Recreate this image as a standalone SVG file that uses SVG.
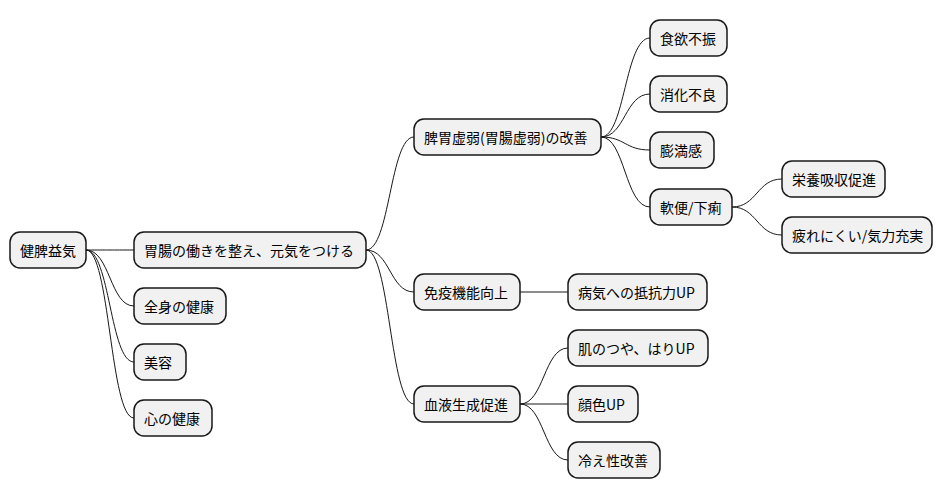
<svg xmlns="http://www.w3.org/2000/svg" width="943" height="499" viewBox="0 0 943 499">
<style>
.n rect{fill:#f1f1f1;stroke:#181818;stroke-width:1.5}
.n text{font-family:"Noto Sans CJK JP","Noto Sans",sans-serif;font-size:14px;fill:#000;dominant-baseline:central}
#c path{fill:none;stroke:#181818;stroke-width:1}
</style>
<rect width="943" height="499" fill="#fff"/>
<g id="c">
<path d="M86,250 C110,250 110,250 134,250"/>
<path d="M86,250 C110,250 110,306 134,306"/>
<path d="M86,250 C110,250 110,362 134,362"/>
<path d="M86,250 C110,250 110,418 134,418"/>
<path d="M366,250 C390,250 390,137 414,137"/>
<path d="M366,250 C390,250 390,292 414,292"/>
<path d="M366,250 C390,250 390,404 414,404"/>
<path d="M601,137 C625,137 625,38 650,38"/>
<path d="M601,137 C625,137 625,94 650,94"/>
<path d="M601,137 C625,137 625,150 650,150"/>
<path d="M601,137 C625,137 625,207 650,207"/>
<path d="M732,207 C757,207 757,179 782,179"/>
<path d="M732,207 C757,207 757,235 782,235"/>
<path d="M520,292 L568,292"/>
<path d="M520,404 C544,404 544,348 568,348"/>
<path d="M520,404 L568,404"/>
<path d="M520,404 C544,404 544,460 568,460"/>
</g>
<g id="n1" class="n"><rect x="10" y="232" width="76" height="36" rx="10"/><text x="20" y="250">健脾益気</text></g>
<g id="n2" class="n"><rect x="134" y="232" width="232" height="36" rx="10"/><text x="144" y="250">胃腸の働きを整え、元気をつける</text></g>
<g id="n3" class="n"><rect x="134" y="288" width="92" height="36" rx="10"/><text x="144" y="306">全身の健康</text></g>
<g id="n4" class="n"><rect x="134" y="344" width="52" height="36" rx="10"/><text x="144" y="362">美容</text></g>
<g id="n5" class="n"><rect x="134" y="400" width="78" height="36" rx="10"/><text x="144" y="418">心の健康</text></g>
<g id="n6" class="n"><rect x="414" y="119" width="187" height="36" rx="10"/><text x="424" y="137">脾胃虚弱(胃腸虚弱)の改善</text></g>
<g id="n7" class="n"><rect x="414" y="274" width="106" height="36" rx="10"/><text x="424" y="292">免疫機能向上</text></g>
<g id="n8" class="n"><rect x="414" y="386" width="106" height="36" rx="10"/><text x="424" y="404">血液生成促進</text></g>
<g id="n9" class="n"><rect x="650" y="20" width="77" height="36" rx="10"/><text x="660" y="38">食欲不振</text></g>
<g id="n10" class="n"><rect x="650" y="76" width="77" height="36" rx="10"/><text x="660" y="94">消化不良</text></g>
<g id="n11" class="n"><rect x="650" y="132" width="64" height="36" rx="10"/><text x="660" y="150">膨満感</text></g>
<g id="n12" class="n"><rect x="650" y="189" width="82" height="36" rx="10"/><text x="660" y="207">軟便/下痢</text></g>
<g id="n13" class="n"><rect x="782" y="161" width="103" height="36" rx="10"/><text x="792" y="179">栄養吸収促進</text></g>
<g id="n14" class="n"><rect x="782" y="217" width="150" height="36" rx="10"/><text x="792" y="235">疲れにくい/気力充実</text></g>
<g id="n15" class="n"><rect x="568" y="274" width="139" height="36" rx="10"/><text x="578" y="292">病気への抵抗力UP</text></g>
<g id="n16" class="n"><rect x="568" y="330" width="140" height="36" rx="10"/><text x="578" y="348">肌のつや、はりUP</text></g>
<g id="n17" class="n"><rect x="568" y="386" width="70" height="36" rx="10"/><text x="578" y="404">顔色UP</text></g>
<g id="n18" class="n"><rect x="568" y="442" width="92" height="36" rx="10"/><text x="578" y="460">冷え性改善</text></g>
</svg>
